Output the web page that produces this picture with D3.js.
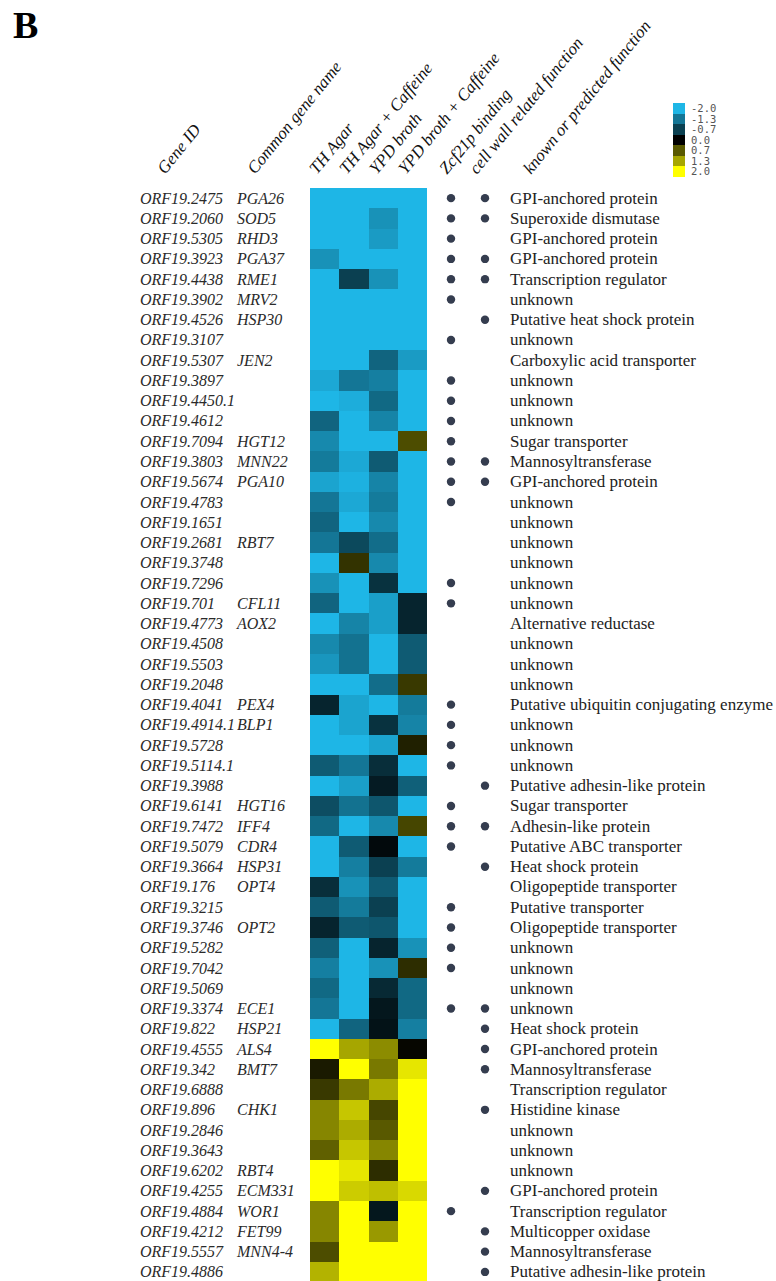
<!DOCTYPE html>
<html>
<head>
<meta charset="utf-8">
<script src="https://cdn.jsdelivr.net/npm/d3@7"></script>
<style>
  html, body { margin: 0; padding: 0; background: #fff; }
  svg { display: block; }
</style>
</head>
<body>
<svg id="chart" width="776" height="1281"></svg>
<script>
// Gene identifiers, one per heatmap row
const geneIds = [
  "ORF19.2475","ORF19.2060","ORF19.5305","ORF19.3923","ORF19.4438","ORF19.3902",
  "ORF19.4526","ORF19.3107","ORF19.5307","ORF19.3897","ORF19.4450.1","ORF19.4612",
  "ORF19.7094","ORF19.3803","ORF19.5674","ORF19.4783","ORF19.1651","ORF19.2681",
  "ORF19.3748","ORF19.7296","ORF19.701","ORF19.4773","ORF19.4508","ORF19.5503",
  "ORF19.2048","ORF19.4041","ORF19.4914.1","ORF19.5728","ORF19.5114.1","ORF19.3988",
  "ORF19.6141","ORF19.7472","ORF19.5079","ORF19.3664","ORF19.176","ORF19.3215",
  "ORF19.3746","ORF19.5282","ORF19.7042","ORF19.5069","ORF19.3374","ORF19.822",
  "ORF19.4555","ORF19.342","ORF19.6888","ORF19.896","ORF19.2846","ORF19.3643",
  "ORF19.6202","ORF19.4255","ORF19.4884","ORF19.4212","ORF19.5557","ORF19.4886"
];

const commonNames = [
  "PGA26","SOD5","RHD3","PGA37","RME1","MRV2","HSP30","","JEN2","","","",
  "HGT12","MNN22","PGA10","","","RBT7","","","CFL11","AOX2","","",
  "","PEX4","BLP1","","","","HGT16","IFF4","CDR4","HSP31","OPT4","",
  "OPT2","","","","ECE1","HSP21","ALS4","BMT7","","CHK1","","",
  "RBT4","ECM331","WOR1","FET99","MNN4-4",""
];

const conditions = ["TH Agar", "TH Agar + Caffeine", "YPD broth", "YPD broth + Caffeine"];

// Log-ratio expression per condition (same row order as geneIds)
const thAgar = [
  -2, -2, -2, -1.6, -2, -2, -2, -2, -2, -1.85, -2, -1.1,
  -1.5, -1.35, -1.8, -1.3, -1.1, -1.3, -2, -1.6, -1.1, -2, -1.5, -1.65,
  -2, -0.4, -2, -2, -1.0, -2, -0.85, -1.15, -2, -2, -0.5, -1.0,
  -0.4, -1.05, -1.4, -1.15, -1.3, -2, 2, 0.2, 0.45, 1.05, 1.05, 0.75,
  2, 2, 1.05, 1.05, 0.6, 1.4
];
const thAgarCaffeine = [
  -2, -2, -2, -2, -0.7, -2, -2, -2, -2, -1.3, -1.9, -2,
  -2, -1.85, -1.95, -1.85, -2, -0.8, 0.4, -2, -2, -1.45, -1.25, -1.25,
  -2, -1.8, -1.8, -2, -1.3, -1.75, -1.25, -2, -1.0, -1.4, -1.6, -1.35,
  -1.0, -2, -2, -2, -2, -1.1, 1.3, 2, 0.95, 1.55, 1.35, 1.55,
  1.8, 1.6, 2, 2, 2, 2
];
const ypdBroth = [
  -2, -1.6, -1.7, -2, -1.6, -2, -2, -2, -1.1, -1.4, -1.15, -1.45,
  -2, -1.0, -1.45, -1.35, -1.5, -1.2, -1.5, -0.55, -1.75, -1.75, -2, -2,
  -1.2, -2, -0.55, -1.8, -0.5, -0.3, -0.95, -1.5, -0.1, -0.7, -1.0, -0.7,
  -0.95, -0.4, -1.6, -0.45, -0.25, -0.2, 1.1, 0.95, 1.35, 0.55, 0.7, 1.05,
  0.35, 1.5, -0.25, 1.2, 2, 2
];
const ypdBrothCaffeine = [
  -2, -2, -2, -2, -2, -2, -2, -2, -1.7, -2, -2, -2,
  0.6, -2, -2, -2, -2, -2, -2, -2, -0.4, -0.4, -1.0, -1.0,
  0.45, -1.35, -1.45, 0.25, -2, -1.05, -2, 0.55, -2, -1.35, -2, -2,
  -2, -1.6, 0.35, -1.15, -1.15, -1.4, 0.05, 1.8, 2, 2, 2, 2,
  2, 1.7, 2, 2, 2, 2
];

// 1 = Zcf21p binding site present
const zcf21Binding = [
  1,1,1,1,1,1,0,1,0,1,1,1,
  1,1,1,1,0,0,0,1,1,0,0,0,
  0,1,1,1,1,0,1,1,1,0,0,1,
  1,1,1,0,1,0,0,0,0,0,0,0,
  0,0,1,0,0,0
];
// 1 = cell wall related function
const cellWall = [
  1,1,0,1,1,0,1,0,0,0,0,0,
  0,1,1,0,0,0,0,0,0,0,0,0,
  0,0,0,0,0,1,0,1,0,1,0,0,
  0,0,0,0,1,1,1,1,0,1,0,0,
  0,1,0,1,1,1
];

const functions = [
  "GPI-anchored protein","Superoxide dismutase","GPI-anchored protein","GPI-anchored protein",
  "Transcription regulator","unknown","Putative heat shock protein","unknown",
  "Carboxylic acid transporter","unknown","unknown","unknown",
  "Sugar transporter","Mannosyltransferase","GPI-anchored protein","unknown",
  "unknown","unknown","unknown","unknown","unknown","Alternative reductase",
  "unknown","unknown","unknown","Putative ubiquitin conjugating enzyme","unknown","unknown",
  "unknown","Putative adhesin-like protein","Sugar transporter","Adhesin-like protein",
  "Putative ABC transporter","Heat shock protein","Oligopeptide transporter","Putative transporter",
  "Oligopeptide transporter","unknown","unknown","unknown","unknown","Heat shock protein",
  "GPI-anchored protein","Mannosyltransferase","Transcription regulator","Histidine kinase",
  "unknown","unknown","unknown","GPI-anchored protein","Transcription regulator",
  "Multicopper oxidase","Mannosyltransferase","Putative adhesin-like protein"
];

const headerLabels = [
  "Gene ID", "Common gene name", "TH Agar", "TH Agar + Caffeine", "YPD broth",
  "YPD broth + Caffeine", "Zcf21p binding", "cell wall related function",
  "known or predicted function"
];

const legendTicks = ["-2.0", "-1.3", "-0.7", "0.0", "0.7", "1.3", "2.0"];

// ---- layout ----
const svg = d3.select("#chart");
const rowH = 20.26;
const gridTop = 188;

const y = d3.scaleBand()
  .domain(geneIds)
  .range([gridTop, gridTop + geneIds.length * rowH])
  .padding(0);

const x = d3.scaleBand()
  .domain(conditions)
  .range([310, 427])
  .padding(0);

const color = d3.scaleLinear()
  .domain([-2, 0, 2])
  .range(["#1eb6e6", "#000000", "#ffff00"])
  .clamp(true);

const seriesByCondition = [thAgar, thAgarCaffeine, ypdBroth, ypdBrothCaffeine];
const cells = [];
geneIds.forEach((g, i) => {
  conditions.forEach((c, j) => {
    cells.push({ gene: g, cond: c, value: seriesByCondition[j][i] });
  });
});

// Panel letter
svg.append("text")
  .attr("x", 13).attr("y", 38)
  .attr("font-family", "Liberation Serif, serif")
  .attr("font-weight", "bold")
  .attr("font-size", 38)
  .attr("fill", "#000")
  .text("B");

// Heatmap cells
svg.append("g")
  .selectAll("rect")
  .data(cells)
  .join("rect")
  .attr("x", d => x(d.cond))
  .attr("y", d => y(d.gene))
  .attr("width", x.bandwidth() + 0.4)
  .attr("height", y.bandwidth() + 0.4)
  .attr("fill", d => color(d.value))
  .attr("shape-rendering", "crispEdges");

const mid = g => y(g) + y.bandwidth() / 2;

// Gene IDs
svg.append("g")
  .selectAll("text")
  .data(geneIds)
  .join("text")
  .attr("x", 140)
  .attr("y", d => mid(d) + 5.5)
  .attr("font-family", "Liberation Serif, serif")
  .attr("font-style", "italic")
  .attr("font-size", 16)
  .attr("fill", "#2a2a2a")
  .text(d => d);

// Common gene names
svg.append("g")
  .selectAll("text")
  .data(geneIds.map((g, i) => ({ g, name: commonNames[i] })).filter(d => d.name))
  .join("text")
  .attr("x", 237)
  .attr("y", d => mid(d.g) + 5.5)
  .attr("font-family", "Liberation Serif, serif")
  .attr("font-style", "italic")
  .attr("font-size", 16)
  .attr("fill", "#2a2a2a")
  .text(d => d.name);

// Binding / cell-wall markers
const dotCols = [
  { xPos: 451, flags: zcf21Binding },
  { xPos: 485, flags: cellWall }
];
dotCols.forEach(col => {
  svg.append("g")
    .selectAll("circle")
    .data(geneIds.filter((g, i) => col.flags[i] === 1))
    .join("circle")
    .attr("cx", col.xPos)
    .attr("cy", d => mid(d))
    .attr("r", 4.2)
    .attr("fill", "#353d4f");
});

// Function descriptions
svg.append("g")
  .selectAll("text")
  .data(geneIds.map((g, i) => ({ g, f: functions[i] })))
  .join("text")
  .attr("x", 510)
  .attr("y", d => mid(d.g) + 5.5)
  .attr("font-family", "Liberation Serif, serif")
  .attr("font-size", 17)
  .attr("fill", "#222")
  .text(d => d.f);

// Rotated column headers
const headerAnchors = [165, 255, 317, 347, 377, 406, 447, 477, 531];
svg.append("g")
  .selectAll("text")
  .data(headerLabels.map((t, i) => ({ t, ax: headerAnchors[i] })))
  .join("text")
  .attr("transform", d => `translate(${d.ax},175) rotate(-51)`)
  .attr("font-family", "Liberation Serif, serif")
  .attr("font-style", "italic")
  .attr("font-size", 17)
  .attr("fill", "#111")
  .text(d => d.t);

// Colour legend
const legendY = d3.scaleBand()
  .domain(legendTicks)
  .range([103.3, 176.7])
  .padding(0);
const legend = svg.append("g");
legend.selectAll("rect")
  .data(legendTicks)
  .join("rect")
  .attr("x", 673)
  .attr("y", d => legendY(d))
  .attr("width", 12)
  .attr("height", legendY.bandwidth() + 0.3)
  .attr("fill", d => color(+d))
  .attr("shape-rendering", "crispEdges");
legend.selectAll("text")
  .data(legendTicks)
  .join("text")
  .attr("x", 691)
  .attr("y", d => legendY(d) + legendY.bandwidth() / 2 + 3.8)
  .attr("font-family", "DejaVu Sans Mono, monospace")
  .attr("font-size", 10.5)
  .attr("fill", "#555")
  .text(d => d);
</script>
</body>
</html>
